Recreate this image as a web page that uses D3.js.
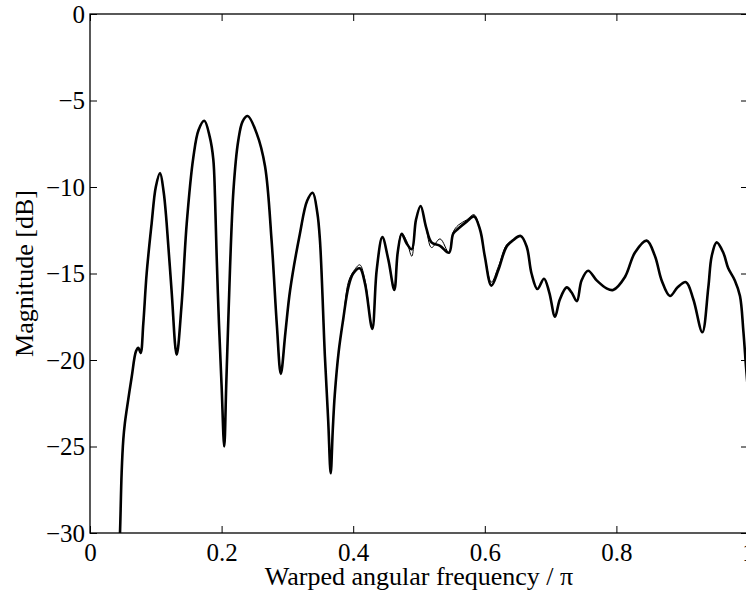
<!DOCTYPE html>
<html>
<head>
<meta charset="utf-8">
<script src="https://cdn.jsdelivr.net/npm/d3@7"></script>
<style>
  body { margin: 0; background: #fff; }
  svg text { font-family: "Liberation Serif", "Times New Roman", serif; }
</style>
</head>
<body>
<div id="chart"></div>
<script>
// thick curve (warped frequency / pi, magnitude dB)
const thickFreq = [0.044, 0.0456, 0.0481, 0.0506, 0.0530, 0.0557, 0.0633, 0.0699, 0.0735, 0.0770, 0.081, 0.0861, 0.0937, 0.100, 0.1064, 0.112, 0.1165, 0.124, 0.1317, 0.139, 0.147, 0.157, 0.165, 0.1737, 0.182, 0.1874, 0.190, 0.1925, 0.196, 0.200, 0.204, 0.207, 0.210, 0.218, 0.2254, 0.232, 0.2396, 0.2533, 0.266, 0.276, 0.284, 0.290, 0.297, 0.304, 0.319, 0.330, 0.3384, 0.3455, 0.3495, 0.357, 0.362, 0.3658, 0.369, 0.372, 0.378, 0.385, 0.3926, 0.400, 0.410, 0.418, 0.429, 0.4357, 0.4443, 0.4534, 0.4625, 0.4676, 0.4737, 0.481, 0.489, 0.4954, 0.5025, 0.5106, 0.519, 0.532, 0.5456, 0.552, 0.5598, 0.5725, 0.5836, 0.593, 0.600, 0.610, 0.6206, 0.633, 0.6434, 0.6545, 0.6637, 0.671, 0.680, 0.690, 0.698, 0.7067, 0.714, 0.7245, 0.732, 0.740, 0.747, 0.757, 0.770, 0.785, 0.795, 0.813, 0.828, 0.846, 0.8587, 0.8688, 0.8815, 0.893, 0.9058, 0.917, 0.9306, 0.9397, 0.9448, 0.9524, 0.9625, 0.970, 0.980, 0.9878, 0.9929, 0.997, 1.0];
const thickDb = [-31.5, -30.0, -26.5, -24.6, -23.65, -22.9, -21.0, -19.5, -19.3, -19.6, -17.9, -15.0, -12.1, -10.0, -9.2, -10.3, -12.1, -16.0, -19.7, -16.9, -12.1, -8.3, -6.7, -6.17, -7.1, -8.4, -10.6, -14.0, -17.9, -21.5, -25.0, -21.5, -17.9, -10.2, -7.3, -6.2, -5.9, -6.9, -8.8, -13.1, -18.0, -20.8, -18.4, -16.0, -12.7, -10.8, -10.33, -11.5, -13.1, -19.8, -23.5, -26.55, -24.0, -22.0, -19.5, -17.6, -15.8, -15.0, -14.7, -15.6, -18.2, -14.8, -12.9, -14.2, -15.95, -13.8, -12.7, -13.25, -13.6, -11.9, -11.1, -12.3, -13.2, -13.4, -13.8, -12.7, -12.4, -12.0, -11.7, -12.5, -14.0, -15.7, -14.8, -13.45, -13.06, -12.83, -13.45, -15.0, -15.9, -15.3, -16.1, -17.5, -16.5, -15.8, -16.1, -16.6, -15.4, -14.84, -15.4, -15.86, -15.95, -15.2, -13.8, -13.1, -14.0, -15.4, -16.3, -15.8, -15.5, -16.5, -18.4, -15.8, -14.0, -13.2, -13.8, -14.7, -15.4, -16.3, -18.3, -20.4, -21.8];

// thin curve, follows the thick one except around 0.39-0.63
const thinFreq = thickFreq;
const thinDb = [-31.5, -30.0, -26.5, -24.6, -23.65, -22.9, -21.0, -19.5, -19.3, -19.6, -17.9, -15.0, -12.1, -10.0, -9.2, -10.3, -12.1, -16.0, -19.7, -16.9, -12.1, -8.3, -6.7, -6.17, -7.1, -8.4, -10.6, -14.0, -17.9, -21.5, -25.0, -21.5, -17.9, -10.2, -7.3, -6.2, -5.9, -6.9, -8.8, -13.1, -18.0, -20.8, -18.4, -16.0, -12.7, -10.8, -10.33, -11.5, -13.1, -19.8, -23.5, -26.55, -24.0, -22.0, -19.5, -17.6, -15.5, -14.9, -14.5, -15.4, -18.2, -14.8, -12.9, -14.2, -15.95, -13.8, -12.7, -13.1, -14.0, -11.9, -11.1, -12.3, -13.5, -13.0, -13.8, -12.6, -12.2, -11.9, -11.6, -12.5, -14.0, -15.5, -14.6, -13.35, -13.06, -12.83, -13.45, -15.0, -15.9, -15.3, -16.1, -17.5, -16.5, -15.8, -16.1, -16.6, -15.4, -14.84, -15.4, -15.86, -15.95, -15.2, -13.8, -13.1, -14.0, -15.4, -16.3, -15.8, -15.5, -16.5, -18.4, -15.8, -14.0, -13.2, -13.8, -14.7, -15.4, -16.3, -18.3, -20.4, -21.8];

const xTicks = [0, 0.2, 0.4, 0.6, 0.8, 1];
const xTickLabels = ["0", "0.2", "0.4", "0.6", "0.8", "1"];
const yTicks = [0, -5, -10, -15, -20, -25, -30];

const W = 746, H = 599;
const margin = {top: 14, right: -2, bottom: 66, left: 90},
  width = W - margin.left - margin.right,
  height = H - margin.top - margin.bottom;

const serif = "Liberation Serif, Times New Roman, serif";

const svg = d3.select("#chart")
  .append("svg")
    .attr("width", W)
    .attr("height", H)
  .append("g")
    .attr("transform", "translate(" + margin.left + "," + margin.top + ")");

const x = d3.scaleLinear().domain([0, 1]).range([0, width]);
const y = d3.scaleLinear().domain([-30, 0]).range([height, 0]);

svg.append("clipPath").attr("id", "clip")
  .append("rect").attr("width", width).attr("height", height);

const line = d3.line()
  .x(d => x(d[0]))
  .y(d => y(d[1]))
  .curve(d3.curveCatmullRom.alpha(0.5));

svg.append("path")
  .datum(thinFreq.map((f, i) => [f, thinDb[i]]))
  .attr("clip-path", "url(#clip)")
  .attr("fill", "none")
  .attr("stroke", "#000")
  .attr("stroke-width", 1)
  .attr("d", line);

svg.append("path")
  .datum(thickFreq.map((f, i) => [f, thickDb[i]]))
  .attr("clip-path", "url(#clip)")
  .attr("fill", "none")
  .attr("stroke", "#000")
  .attr("stroke-width", 2.6)
  .attr("d", line);

const styleAxis = g => {
  g.attr("font-family", serif).attr("font-size", 25);
  g.select(".domain").remove();
  g.selectAll(".tick line").attr("stroke", "#000").attr("stroke-width", 1);
  g.selectAll(".tick text").attr("fill", "#000");
};

svg.append("g")
  .attr("transform", "translate(0," + height + ")")
  .call(d3.axisBottom(x).tickValues(xTicks)
    .tickFormat((d, i) => xTickLabels[i]).tickSize(-7).tickPadding(10))
  .call(styleAxis);

svg.append("g")
  .call(d3.axisTop(x).tickValues(xTicks).tickFormat("").tickSize(-7))
  .call(styleAxis);

svg.append("g")
  .call(d3.axisLeft(y).tickValues(yTicks).tickSize(-7).tickPadding(5))
  .call(styleAxis);

svg.append("g")
  .attr("transform", "translate(" + width + ",0)")
  .call(d3.axisRight(y).tickValues(yTicks).tickFormat("").tickSize(-7))
  .call(styleAxis);

svg.append("rect")
  .attr("width", width)
  .attr("height", height)
  .attr("fill", "none")
  .attr("stroke", "#000")
  .attr("stroke-width", 1.3);

svg.append("text")
  .attr("x", width / 2)
  .attr("y", height + 52)
  .attr("text-anchor", "middle")
  .attr("font-family", serif)
  .attr("font-size", 26)
  .text("Warped angular frequency / π");

svg.append("text")
  .attr("transform", "translate(" + (-57) + "," + (height / 2) + ") rotate(-90)")
  .attr("text-anchor", "middle")
  .attr("font-family", serif)
  .attr("font-size", 26)
  .text("Magnitude [dB]");
</script>
</body>
</html>
